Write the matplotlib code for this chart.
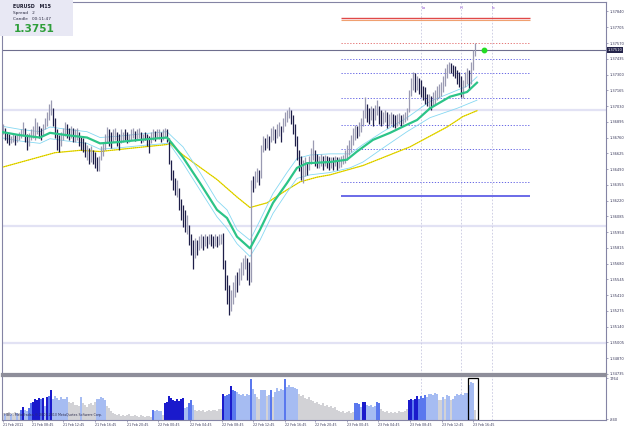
import numpy as np
import matplotlib.pyplot as plt
from matplotlib.patches import Rectangle
from matplotlib.transforms import blended_transform_factory

# ---- price bars (M15, one per index) ----
high = [1.3688, 1.3684, 1.3681, 1.3679, 1.3677, 1.3680, 1.3678, 1.3679, 1.3681, 1.3683,
        1.3689, 1.3684, 1.3679, 1.3680, 1.3683, 1.3686, 1.3693, 1.3689, 1.3686, 1.3684,
        1.3688, 1.3693, 1.3698, 1.3705, 1.3708, 1.3701, 1.3693, 1.3683, 1.3678, 1.3681,
        1.3684, 1.3689, 1.3688, 1.3684, 1.3686, 1.3684, 1.3683, 1.3684, 1.3681, 1.3677,
        1.3676, 1.3672, 1.3670, 1.3667, 1.3669, 1.3665, 1.3664, 1.3659, 1.3660, 1.3669,
        1.3672, 1.3679, 1.3685, 1.3683, 1.3681, 1.3683, 1.3684, 1.3681, 1.3679, 1.3683,
        1.3681, 1.3683, 1.3681, 1.3679, 1.3683, 1.3684, 1.3682, 1.3683, 1.3684, 1.3681,
        1.3679, 1.3681, 1.3679, 1.3677, 1.3681, 1.3683, 1.3682, 1.3683, 1.3683, 1.3681,
        1.3683, 1.3684, 1.3683, 1.3676, 1.3657, 1.3648, 1.3641, 1.3640, 1.3633, 1.3623,
        1.3618, 1.3614, 1.3610, 1.3601, 1.3593, 1.3588, 1.3590, 1.3588, 1.3592, 1.3593,
        1.3592, 1.3593, 1.3592, 1.3593, 1.3593, 1.3592, 1.3593, 1.3592, 1.3593, 1.3593,
        1.3594, 1.3571, 1.3558, 1.3550, 1.3545, 1.3552, 1.3558, 1.3561, 1.3564, 1.3569,
        1.3573, 1.3575, 1.3573, 1.3569, 1.3640, 1.3643, 1.3647, 1.3650, 1.3648, 1.3670,
        1.3677, 1.3676, 1.3679, 1.3677, 1.3684, 1.3686, 1.3683, 1.3688, 1.3689, 1.3686,
        1.3693, 1.3698, 1.3700, 1.3702, 1.3700, 1.3695, 1.3688, 1.3677, 1.3665, 1.3660,
        1.3657, 1.3659, 1.3655, 1.3660, 1.3667, 1.3674, 1.3665, 1.3662, 1.3660, 1.3662,
        1.3660, 1.3661, 1.3660, 1.3659, 1.3659, 1.3659, 1.3660, 1.3659, 1.3659, 1.3660,
        1.3661, 1.3665, 1.3670, 1.3674, 1.3678, 1.3684, 1.3687, 1.3686, 1.3689, 1.3693,
        1.3700, 1.3711, 1.3705, 1.3701, 1.3703, 1.3701, 1.3704, 1.3708, 1.3703, 1.3700,
        1.3698, 1.3700, 1.3698, 1.3696, 1.3698, 1.3696, 1.3695, 1.3696, 1.3697, 1.3695,
        1.3696, 1.3698, 1.3701, 1.3717, 1.3727, 1.3732, 1.3731, 1.3729, 1.3727, 1.3725,
        1.3720, 1.3719, 1.3713, 1.3713, 1.3712, 1.3715, 1.3717, 1.3720, 1.3722, 1.3724,
        1.3729, 1.3736, 1.3739, 1.3741, 1.3740, 1.3738, 1.3737, 1.3734, 1.3732, 1.3729,
        1.3725, 1.3732, 1.3736, 1.3734, 1.3741, 1.3751, 1.3757]
low = [1.3679, 1.3674, 1.3671, 1.3670, 1.3671, 1.3672, 1.3670, 1.3672, 1.3674, 1.3676,
       1.3677, 1.3672, 1.3665, 1.3669, 1.3674, 1.3676, 1.3674, 1.3679, 1.3676, 1.3674,
       1.3677, 1.3683, 1.3686, 1.3691, 1.3695, 1.3686, 1.3676, 1.3665, 1.3664, 1.3669,
       1.3674, 1.3677, 1.3676, 1.3674, 1.3676, 1.3672, 1.3672, 1.3674, 1.3669, 1.3665,
       1.3664, 1.3659, 1.3657, 1.3653, 1.3655, 1.3653, 1.3650, 1.3647, 1.3647, 1.3657,
       1.3660, 1.3665, 1.3671, 1.3669, 1.3667, 1.3672, 1.3674, 1.3669, 1.3665, 1.3671,
       1.3672, 1.3674, 1.3671, 1.3672, 1.3674, 1.3676, 1.3673, 1.3674, 1.3676, 1.3671,
       1.3672, 1.3674, 1.3669, 1.3663, 1.3671, 1.3674, 1.3673, 1.3676, 1.3675, 1.3672,
       1.3674, 1.3676, 1.3672, 1.3653, 1.3640, 1.3631, 1.3627, 1.3625, 1.3614, 1.3605,
       1.3599, 1.3595, 1.3593, 1.3584, 1.3575, 1.3563, 1.3573, 1.3575, 1.3580, 1.3581,
       1.3580, 1.3583, 1.3581, 1.3585, 1.3583, 1.3581, 1.3583, 1.3582, 1.3584, 1.3585,
       1.3563, 1.3545, 1.3533, 1.3524, 1.3527, 1.3533, 1.3539, 1.3544, 1.3550, 1.3554,
       1.3558, 1.3563, 1.3554, 1.3550, 1.3552, 1.3629, 1.3633, 1.3638, 1.3635, 1.3641,
       1.3664, 1.3665, 1.3667, 1.3665, 1.3672, 1.3674, 1.3671, 1.3676, 1.3677, 1.3672,
       1.3681, 1.3686, 1.3689, 1.3693, 1.3688, 1.3679, 1.3669, 1.3657, 1.3647, 1.3640,
       1.3637, 1.3643, 1.3644, 1.3648, 1.3653, 1.3657, 1.3652, 1.3650, 1.3650, 1.3652,
       1.3648, 1.3652, 1.3650, 1.3648, 1.3650, 1.3648, 1.3652, 1.3648, 1.3650, 1.3651,
       1.3653, 1.3654, 1.3657, 1.3661, 1.3664, 1.3670, 1.3674, 1.3676, 1.3677, 1.3681,
       1.3686, 1.3693, 1.3689, 1.3688, 1.3691, 1.3686, 1.3691, 1.3695, 1.3688, 1.3686,
       1.3688, 1.3689, 1.3684, 1.3686, 1.3688, 1.3685, 1.3684, 1.3686, 1.3688, 1.3685,
       1.3688, 1.3689, 1.3691, 1.3698, 1.3712, 1.3717, 1.3715, 1.3717, 1.3713, 1.3711,
       1.3708, 1.3705, 1.3703, 1.3701, 1.3700, 1.3703, 1.3705, 1.3708, 1.3710, 1.3712,
       1.3715, 1.3720, 1.3727, 1.3731, 1.3731, 1.3729, 1.3727, 1.3722, 1.3719, 1.3711,
       1.3710, 1.3719, 1.3722, 1.3717, 1.3722, 1.3734, 1.3746]
bull = [1,0,0,0,1,1,0,1,1,1, 1,0,0,1,1,1,1,1,0,0, 1,1,1,1,1,0,0,0,0,1,
        1,1,0,0,1,0,1,1,0,0, 0,0,1,0,1,0,0,0,1,1, 1,1,1,0,0,1,1,0,0,1,
        1,0,0,1,1,1,0,1,1,0, 1,0,0,0,1,1,0,1,1,0, 1,1,0,0,0,0,0,1,0,0,
        0,0,1,0,0,0,1,0,1,1, 0,1,0,1,0,0,1,0,1,1, 0,0,0,0,1,1,1,0,1,1,
        1,1,0,0,1,0,1,1,0,1, 1,0,1,0,1,1,0,1,1,0, 1,1,1,1,0,0,0,0,0,0,
        1,1,0,1,1,1,0,0,1,1, 0,1,0,0,1,0,1,0,1,1, 1,1,1,1,1,1,1,0,1,1,
        1,1,0,0,1,0,1,1,0,0, 1,1,0,1,1,0,0,1,1,0, 1,1,1,1,1,1,0,1,0,0,
        0,0,0,1,0,1,1,1,1,1, 1,1,1,1,0,0,0,0,0,0, 1,1,1,0,1,1,1]

# ---- tick volume and its colour level (0 grey .. 3 dark blue) ----
volume = [300, 250, 280, 320, 260, 300, 340, 280, 310, 420,
          546, 400, 380, 500, 700, 760, 900, 840, 930, 880,
          920, 600, 950, 1000, 1260, 880, 1000, 920, 820, 950,
          870, 900, 960, 750, 700, 760, 650, 620, 580, 960,
          700, 620, 560, 680, 720, 640, 740, 880, 900, 960,
          920, 860, 600, 520, 380, 300, 240, 200, 260, 180,
          220, 160, 200, 240, 180, 150, 200, 170, 140, 190,
          160, 120, 180, 150, 140, 420, 380, 400, 360, 380,
          200, 720, 760, 1000, 920, 860, 780, 880, 800, 900,
          920, 500, 560, 700, 840, 640, 440, 380, 420, 360,
          400, 340, 380, 440, 360, 400, 420, 380, 460, 480,
          1080, 1000, 1040, 1100, 1420, 1260, 1200, 1180, 1100, 1050,
          1080, 1020, 1100, 1050, 1740, 1300, 1080, 960, 900, 1260,
          1250, 1240, 1000, 1050, 1240, 960, 1160, 1350, 1200, 1300,
          1250, 1720, 1400, 1470, 1380, 1400, 1350, 1300, 1100, 1000,
          1060, 940, 900, 960, 850, 780, 720, 760, 680, 640,
          700, 600, 640, 560, 600, 520, 560, 420, 380, 340,
          380, 300, 320, 360, 300, 340, 700, 720, 680, 560,
          760, 760, 620, 600, 640, 560, 600, 760, 720, 460,
          380, 340, 360, 300, 320, 280, 340, 300, 360, 320,
          340, 380, 460, 860, 900, 820, 880, 1000, 900, 1000,
          940, 1040, 960, 1080, 1100, 1060, 1120, 1080, 860, 820,
          980, 900, 1060, 1000, 820, 900, 1020, 1080, 1040, 1100,
          1060, 1120, 1140, 1460, 1600, 1560, 420]
vol_level = [0,1,0,0,1,0,0,1,0,2, 3,1,1,2,2,3,3,3,3,2, 3,1,3,2,3,1,1,1,1,1,
             1,1,1,0,0,0,0,0,0,1, 0,0,0,0,0,0,0,1,1,1, 1,1,0,0,0,0,0,0,0,0,
             0,0,0,0,0,0,0,0,0,0, 0,0,0,0,0,2,1,1,1,1, 0,3,3,3,3,3,3,3,3,3,
             3,1,1,2,2,1,0,0,0,0, 0,0,0,0,0,0,0,0,0,0, 3,2,2,2,3,2,2,1,1,1,
             1,1,1,1,2,1,1,0,0,1, 1,1,0,1,2,0,1,1,1,1, 1,2,1,1,1,1,1,1,0,0,
             0,0,0,0,0,0,0,0,0,0, 0,0,0,0,0,0,0,0,0,0, 0,0,0,0,0,0,2,2,2,1,
             3,3,1,1,1,1,1,2,2,0, 0,0,0,0,0,0,0,0,0,0, 0,0,0,3,3,2,3,3,2,2,
             2,2,1,1,1,1,1,1,0,0, 1,0,1,1,0,1,1,1,1,1, 1,1,1,1,1,1,0]

# ---- moving averages, read as (bar index, price) nodes ----
ma_x = [-1.5, 8.5, 18.5, 23.5, 32, 42, 48.5, 57, 68.5, 82, 84.5, 90, 98.5, 107, 112,
        117, 123.5, 128.5, 135, 142, 147, 152, 163.5, 172, 177, 185, 193.5, 202, 207,
        213.5, 223.5, 232, 237]
ma_mid = [1.3681, 1.3678, 1.3676, 1.3680, 1.3678, 1.3676, 1.3671, 1.3672, 1.3674, 1.3676,
          1.3671, 1.3659, 1.3637, 1.3614, 1.3607, 1.3591, 1.3581, 1.3597, 1.3620, 1.3637,
          1.3650, 1.3654, 1.3655, 1.3657, 1.3664, 1.3674, 1.3680, 1.3687, 1.3691, 1.3701,
          1.3711, 1.3715, 1.3723]
up_x = [-1.5, 8.5, 18.5, 23.5, 32, 42, 48.5, 57, 68.5, 82, 85, 90, 98.5, 107, 112, 117,
        123.5, 128.5, 135, 142, 147, 153.5, 163.5, 173.5, 180, 190, 202, 213.5, 223.5,
        232, 237]
ma_up = [1.3686, 1.3683, 1.3681, 1.3685, 1.3683, 1.3681, 1.3676, 1.3677, 1.3679, 1.3681,
         1.3676, 1.3668, 1.3646, 1.3622, 1.3614, 1.3597, 1.3588, 1.3605, 1.3628, 1.3646,
         1.3658, 1.3661, 1.3662, 1.3662, 1.3670, 1.3681, 1.3693, 1.3707, 1.3714, 1.3720,
         1.3728]
lo_x = [-1.5, 8.5, 18.5, 23.5, 32, 42, 48.5, 57, 68.5, 82, 83.5, 90, 98.5, 107, 112,
        117, 123.5, 128.5, 135, 142, 147, 153.5, 163.5, 173.5, 180, 190, 202, 213.5,
        227, 237]
ma_lo = [1.3676, 1.3673, 1.3671, 1.3675, 1.3673, 1.3671, 1.3666, 1.3667, 1.3669, 1.3671,
         1.3670, 1.3654, 1.3631, 1.3608, 1.3598, 1.3585, 1.3574, 1.3588, 1.3611, 1.3629,
         1.3641, 1.3644, 1.3646, 1.3650, 1.3655, 1.3667, 1.3681, 1.3693, 1.3701, 1.3708]
slow_x = [-1.5, 26, 38.5, 48.5, 65, 82, 83.5, 90, 107, 117, 123.5, 132, 140, 148.5,
          157, 163.5, 180, 203.5, 222, 230, 237]
ma_slow = [1.3650, 1.3663, 1.3665, 1.3664, 1.3667, 1.3670, 1.3671, 1.3661, 1.3640, 1.3625,
           1.3616, 1.3620, 1.3629, 1.3638, 1.3642, 1.3644, 1.3652, 1.3668, 1.3685, 1.3694,
           1.3699]

# ---- levels and session markers ----
dot_red = [1.3757]
dot_blue = [1.3743, 1.3731, 1.3710, 1.3687, 1.3666, 1.3638]
solid_blue = 1.3626
top_red = 1.3778
top_orange = 1.3777
level_x = (169, 263.5)
session_x = [209, 229, 244.5]
session_lbl = ['Lo', 'H', 'Lc']
session_lbl_x = [210.5, 229, 245.5]
bid = 1.3751

price_ticks = [1.37840, 1.37705, 1.37570, 1.37435, 1.37300, 1.37165, 1.37030, 1.36895,
               1.36760, 1.36625, 1.36490, 1.36355, 1.36220, 1.36085, 1.35950, 1.35815,
               1.35680, 1.35545, 1.35410, 1.35275, 1.35140, 1.35005, 1.34870, 1.34735]
grid_prices = [1.37, 1.36, 1.35]
time_pos = [0, 14.5, 30, 46, 62, 77.5, 93.5, 109.5, 125, 141, 156, 172, 187.5, 203.5,
            219.5, 235]
time_lbl = ['21 Feb 2011', '21 Feb 08:45', '21 Feb 12:45', '21 Feb 16:45', '21 Feb 20:45',
            '22 Feb 00:45', '22 Feb 04:45', '22 Feb 08:45', '22 Feb 12:45', '22 Feb 16:45',
            '22 Feb 20:45', '23 Feb 00:45', '23 Feb 04:45', '23 Feb 08:45', '23 Feb 12:45',
            '23 Feb 16:45']

W, H = 625, 429
def fx(px): return px / W
def fy(py): return 1 - py / H

fig = plt.figure(figsize=(6.25, 4.29), dpi=100)
fig.patch.set_facecolor('white')
ax = fig.add_axes([fx(2), fy(374), fx(606) - fx(2), fy(2) - fy(374)])
vax = fig.add_axes([fx(2), fy(420), fx(606) - fx(2), fy(376) - fy(420)], sharex=ax)

edge = '#8484A4'
for a in (ax, vax):
    for s in a.spines.values():
        s.set_color(edge)
        s.set_linewidth(0.8)
ax.spines['bottom'].set_linewidth(1.6)
ax.spines['bottom'].set_color('#8E8E9A')
vax.spines['top'].set_linewidth(1.6)
vax.spines['top'].set_color('#8E8E9A')

x = np.arange(len(high))
ax.set_xlim(-0.5, 301.5)
ax.set_ylim(1.347333, 1.379214)

for g in grid_prices:
    ax.axhline(g, color='#E2E2F4', lw=1.6, zorder=0)
for sx in session_x:
    ax.axvline(sx, color='#C8C8E0', lw=0.6, ls=(0, (2, 2)), zorder=0)
    vax.axvline(sx, color='#C8C8E0', lw=0.6, ls=(0, (2, 2)), zorder=0)
for sx, t in zip(session_lbl_x, session_lbl):
    ax.text(sx, 1.37870, t, fontsize=2.6, color='#8040C8', ha='center', va='center')

# pivot levels
ax.hlines([top_red], *level_x, color='#E04848', lw=1.0)
ax.hlines([top_orange], *level_x, color='#F0A070', lw=0.8)
ax.hlines(dot_red, *level_x, color='#E06060', lw=0.6, ls=(0, (1.5, 2)))
ax.hlines(dot_blue, *level_x, color='#5050E0', lw=0.6, ls=(0, (1.5, 2)))
ax.hlines([solid_blue], *level_x, color='#6A6AE8', lw=1.4)

ax.axhline(bid, color='#6E6E8E', lw=0.8, zorder=2)

# moving averages
ax.plot(slow_x, ma_slow, color='#EEE000', lw=0.9, zorder=2)
ax.plot(slow_x, ma_slow, color='#A89A00', lw=0.5, ls=(0, (1, 2)), zorder=2)
ax.plot(up_x, ma_up, color='#86D8F2', lw=0.6, zorder=2)
ax.plot(lo_x, ma_lo, color='#86D8F2', lw=0.6, zorder=2)

# bars
cols = ['#9A9AB2' if b else '#1E1E48' for b in bull]
ax.vlines(x, low, high, colors=cols, lw=0.9, zorder=3)
ax.plot(ma_x, ma_mid, color='#2CC488', lw=1.6, zorder=4)

ax.plot([240.5], [bid], 'o', color='#22DD22', ms=3.2, zorder=5)

ax.yaxis.tick_right()
ax.set_yticks(price_ticks)
ax.set_yticklabels(['%.5f' % p for p in price_ticks])
ax.tick_params(axis='y', labelsize=2.6, labelcolor='#38385A', length=1.5, width=0.5,
               color=edge, pad=1)
ax.tick_params(axis='x', bottom=False, labelbottom=False)
tr = blended_transform_factory(ax.transAxes, ax.transData)
ax.text(1.003, bid, '1.37510', transform=tr, fontsize=2.6, color='white', va='center',
        ha='left', bbox=dict(boxstyle='square,pad=0.15', fc='#24244A', ec='none'), zorder=6)

# volume
vcolors = ['#D2D2D6', '#A6BCF2', '#5A78EE', '#1A1ACC']
vax.bar(x, volume, width=0.7, color=[vcolors[v] for v in vol_level], zorder=2)
vax.set_ylim(0, 1848)
vax.add_patch(Rectangle((232.6, 20), 4.8, 1760, fill=False, ec='black', lw=0.9, zorder=3))
vax.yaxis.tick_right()
vax.set_yticks([1764, 40])
vax.set_yticklabels(['1764', '-840'])
vax.tick_params(axis='y', labelsize=2.6, labelcolor='#38385A', length=1.5, width=0.5,
                color=edge, pad=1)
vax.set_xticks(time_pos)
vax.set_xticklabels(time_lbl)
vax.tick_params(axis='x', labelsize=2.3, labelcolor='#38385A', length=1.5, width=0.5,
                color=edge, pad=0.6)
plt.setp(vax.get_xticklabels(), ha='left')
vax.text(0.003, 0.08, 'FIBO - MetaTrader, \u00a9 2001-2010 MetaQuotes Software Corp.',
         transform=vax.transAxes, fontsize=2.3, color='#303050', zorder=4)

# info panel
fig.add_artist(Rectangle((0, fy(36)), fx(73), fy(0) - fy(36), transform=fig.transFigure,
                         fc='#E8E8F4', ec='none', zorder=5))
fig.text(fx(13), fy(6), 'EURUSD   M15', fontsize=3.4, weight='bold', color='#1C1C30',
         va='center', zorder=6)
fig.text(fx(13), fy(13), 'Spread   2', fontsize=3.1, color='#2A2A40', va='center', zorder=6)
fig.text(fx(13), fy(19.5), 'Candle   00:11:47', fontsize=3.1, color='#2A2A40',
         va='center', zorder=6)
fig.text(fx(14), fy(28.5), '1.3751', fontsize=7.6, weight='bold', color='#2E9E3A',
         va='center', zorder=6)

fig.savefig('out.png', dpi=100)
